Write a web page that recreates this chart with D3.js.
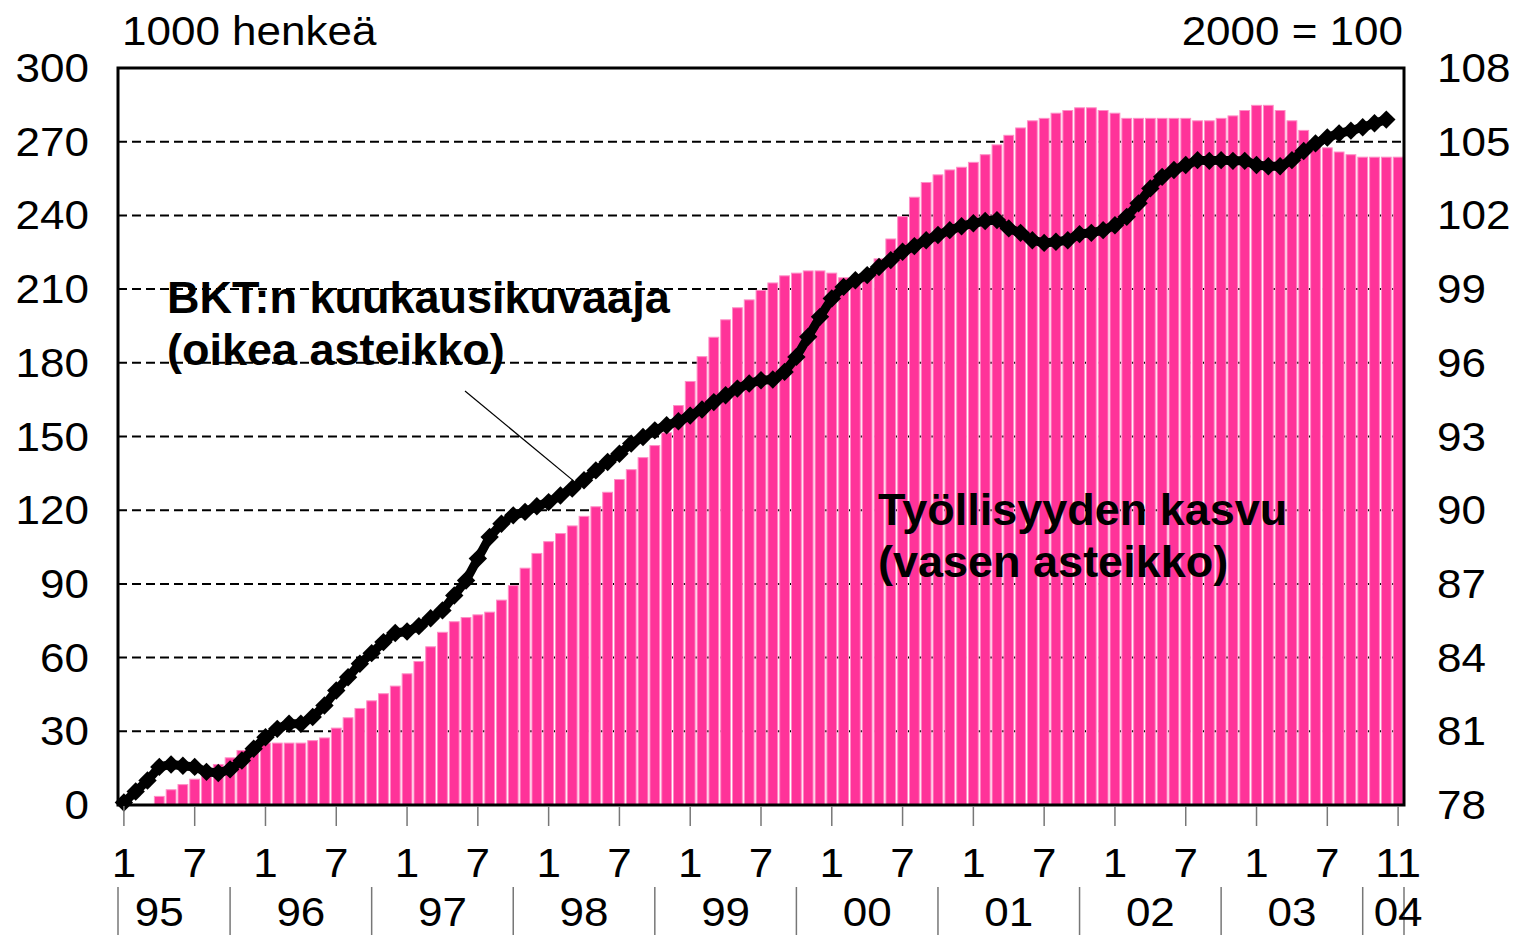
<!DOCTYPE html>
<html>
<head>
<meta charset="utf-8">
<script src="https://cdn.jsdelivr.net/npm/d3@7"></script>
<style>
  body { margin: 0; background: #fff; }
  svg { display: block; }
</style>
</head>
<body>
<script>
// employment growth, 1000 persons (left scale), monthly from 1/1995
var employment = [
  0, 0, 0, 3.5, 6.2, 8.3, 10.5, 12.5, 16.5, 19.2, 22.2, 24,
  25.2, 25.2, 25.2, 25.2, 26.2, 27.3, 31.3, 35.5, 39.3, 42.4, 45.3, 48.4,
  53.4, 58.4, 64.4, 70.3, 74.6, 76.3, 77.4, 78.5, 83.4, 89.3, 96.4, 102.4,
  107.2, 110.5, 113.6, 117.5, 121.4, 127.3, 132.5, 136.5, 141.4, 146.3, 151.5, 162.6,
  172.4, 182.5, 190.4, 197.5, 202.4, 205.6, 209.5, 212.5, 215.4, 216.5, 217.4, 217.4,
  216.5, 214.6, 214, 217, 222.3, 230.4, 239.5, 247.4, 253.4, 256.5, 258.5, 259.6,
  261.6, 264.7, 268.7, 272.6, 275.6, 278.5, 279.5, 281.6, 282.7, 283.8, 283.8, 282.7,
  281.6, 279.5, 279.5, 279.5, 279.5, 279.5, 279.5, 278.5, 278.5, 279.5, 280.5, 282.7,
  284.8, 284.8, 282.7, 278.5, 274.6, 269, 267.5, 265.8, 264.7, 263.7, 263.7, 263.7,
  263.7
];

// monthly GDP indicator, 2000 = 100 (right scale)
var gdp = [
  78.1, 78.55, 79.0, 79.55, 79.65, 79.6, 79.55, 79.35, 79.3, 79.45, 79.81, 80.29,
  80.76, 81.1, 81.31, 81.31, 81.58, 82.05, 82.66, 83.2, 83.75, 84.18, 84.63, 85.0,
  85.06, 85.28, 85.6, 85.92, 86.53, 87.14, 88.03, 88.91, 89.45, 89.79, 89.93, 90.16,
  90.33, 90.6, 90.88, 91.22, 91.62, 91.96, 92.3, 92.71, 92.98, 93.25, 93.46, 93.62,
  93.85, 94.1, 94.4, 94.68, 94.95, 95.16, 95.29, 95.32, 95.63, 96.24, 97.06, 97.87,
  98.62, 99.09, 99.36, 99.57, 99.9, 100.18, 100.52, 100.75, 100.99, 101.2, 101.4, 101.56,
  101.68, 101.77, 101.81, 101.47, 101.29, 100.99, 100.88, 100.93, 100.99, 101.24, 101.29, 101.4,
  101.6, 101.94, 102.49, 103.1, 103.57, 103.85, 104.05, 104.25, 104.22, 104.25, 104.22, 104.22,
  104.05, 104.0, 104.0, 104.25, 104.62, 104.93, 105.17, 105.34, 105.45, 105.59, 105.75, 105.9
];

var leftTicks = [0, 30, 60, 90, 120, 150, 180, 210, 240, 270, 300];
var rightTicks = [78, 81, 84, 87, 90, 93, 96, 99, 102, 105, 108];

var monthTicks = [0, 6, 12, 18, 24, 30, 36, 42, 48, 54, 60, 66, 72, 78, 84, 90, 96, 102, 108];
var monthLabels = ["1", "7", "1", "7", "1", "7", "1", "7", "1", "7", "1", "7", "1", "7", "1", "7", "1", "7", "11"];

var yearLabels = ["95", "96", "97", "98", "99", "00", "01", "02", "03", "04"];
var yearLabelPos = [3, 15, 27, 39, 51, 63, 75, 87, 99, 108];
var yearSeps = [-0.5, 9, 21, 33, 45, 57, 69, 81, 93, 105, 108.5];

var W = 1516, H = 935;
var plotL = 118, plotR = 1404, plotT = 68, plotB = 805;

var svg = d3.select("body").append("svg")
  .attr("width", W)
  .attr("height", H);

var x = d3.scaleLinear().domain([-0.5, employment.length - 0.5]).range([plotL, plotR]);
var yL = d3.scaleLinear().domain([0, 300]).range([plotB, plotT]);
var yR = d3.scaleLinear().domain([78, 108]).range([plotB, plotT]);

var font = "'Liberation Sans', Arial, Helvetica, sans-serif";

// regular text is a bit wider than the font, so stretch it
function label(txt, px, py, anchor) {
  return svg.append("text")
    .attr("transform", "translate(" + px + "," + py + ") scale(1.1,1)")
    .attr("text-anchor", anchor)
    .attr("font-family", font)
    .attr("font-size", 40)
    .attr("fill", "#000")
    .text(txt);
}

// dashed grid
svg.append("g").selectAll("line")
  .data(leftTicks.slice(1, -1))
  .enter().append("line")
  .attr("x1", plotL).attr("x2", plotR)
  .attr("y1", function (d) { return yL(d); })
  .attr("y2", function (d) { return yL(d); })
  .attr("stroke", "#000")
  .attr("stroke-width", 2)
  .attr("stroke-dasharray", "9,5");

// bars
svg.append("g").selectAll("rect")
  .data(employment)
  .enter().append("rect")
  .attr("x", function (d, i) { return x(i - 0.5) + 1; })
  .attr("width", function (d, i) { return x(i + 0.5) - x(i - 0.5) - 2; })
  .attr("y", function (d) { return yL(d); })
  .attr("height", function (d) { return yL(0) - yL(d); })
  .attr("fill", "#ff3399")
  .attr("stroke", "#ff8ec6")
  .attr("stroke-width", 1);

// GDP line with diamond markers
var line = d3.line()
  .x(function (d, i) { return x(i); })
  .y(function (d) { return yR(d); });

svg.append("path")
  .datum(gdp)
  .attr("d", line)
  .attr("fill", "none")
  .attr("stroke", "#000")
  .attr("stroke-width", 9)
  .attr("stroke-linejoin", "round");

svg.append("g").selectAll("rect")
  .data(gdp)
  .enter().append("rect")
  .attr("x", -6.5).attr("y", -6.5)
  .attr("width", 13).attr("height", 13)
  .attr("transform", function (d, i) { return "translate(" + x(i) + "," + yR(d) + ") rotate(45)"; })
  .attr("fill", "#000");

// frame
svg.append("rect")
  .attr("x", plotL).attr("y", plotT)
  .attr("width", plotR - plotL).attr("height", plotB - plotT)
  .attr("fill", "none")
  .attr("stroke", "#000")
  .attr("stroke-width", 3);

// y tick labels
leftTicks.forEach(function (t) { label(t, 89, yL(t) + 14, "end"); });
rightTicks.forEach(function (t) { label(t, 1437, yR(t) + 14, "start"); });

label("1000 henkeä", 122, 45, "start");
label("2000 = 100", 1403, 45, "end");

// x axis: month ticks and labels
svg.append("g").selectAll("line")
  .data(monthTicks)
  .enter().append("line")
  .attr("x1", function (d) { return x(d); })
  .attr("x2", function (d) { return x(d); })
  .attr("y1", plotB + 1).attr("y2", plotB + 21)
  .attr("stroke", "#777")
  .attr("stroke-width", 1.5);

monthTicks.forEach(function (t, i) { label(monthLabels[i], x(t), 877, "middle"); });

// year row
svg.append("g").selectAll("line")
  .data(yearSeps)
  .enter().append("line")
  .attr("x1", function (d) { return x(d); })
  .attr("x2", function (d) { return x(d); })
  .attr("y1", 887).attr("y2", H)
  .attr("stroke", "#777")
  .attr("stroke-width", 1.5);

yearLabels.forEach(function (t, i) { label(t, x(yearLabelPos[i]), 926, "middle"); });

// annotations
function bold(lines, px, py) {
  var t = svg.append("text")
    .attr("font-family", font)
    .attr("font-size", 45)
    .attr("font-weight", "bold")
    .attr("fill", "#000");
  lines.forEach(function (s, i) {
    t.append("tspan").attr("x", px).attr("y", py + i * 52).text(s);
  });
}

bold(["BKT:n kuukausikuvaaja", "(oikea asteikko)"], 167, 313);
bold(["Työllisyyden kasvu", "(vasen asteikko)"], 878, 525);

svg.append("line")
  .attr("x1", 465).attr("y1", 391)
  .attr("x2", x(38.6)).attr("y2", yR(91.0))
  .attr("stroke", "#000")
  .attr("stroke-width", 1.2);
</script>
</body>
</html>
